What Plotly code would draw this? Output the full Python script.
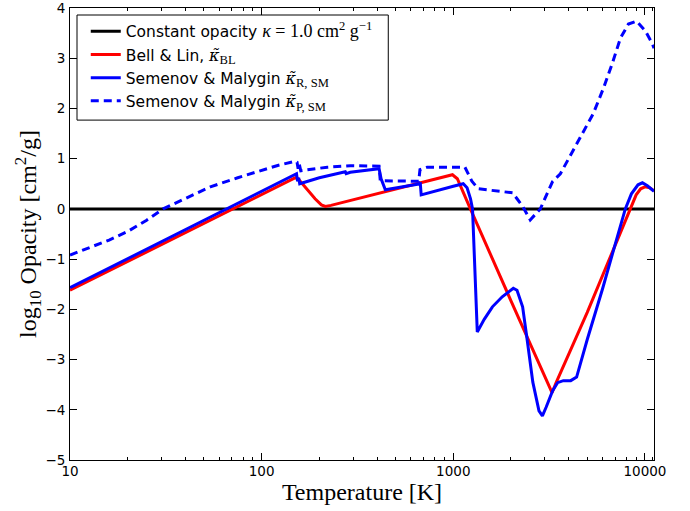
import numpy as np
import plotly.graph_objects as go

# values (temperature in K, log10 opacity)
const_T = [10, 11150]
const_k = [0.0, 0.0]

bl_T = [10, 150, 155, 170, 190, 205, 215, 230, 400, 700, 900, 990, 1050, 1100, 1228,
        2000, 3000, 3275, 3450, 5000, 7000, 8400, 9000, 9500, 10000, 10600, 11150]
bl_k = [-1.62, 0.62, 0.6, 0.42, 0.2, 0.08, 0.05, 0.07, 0.3, 0.53, 0.64, 0.68, 0.6, 0.42, 0.0,
        -1.83, -3.34, -3.66, -3.45, -2.06, -0.72, 0.0, 0.28, 0.4, 0.44, 0.42, 0.36]

smr_T = [10, 100, 150, 152, 154, 156, 158, 165, 200, 273, 276, 290, 350, 410, 420, 442,
         673, 680, 1000, 1127, 1180, 1230, 1260, 1290, 1310, 1334, 1450, 1600, 1800, 2000,
         2056, 2150, 2300, 2432, 2600, 2800, 2917, 3050, 3300, 3500, 3750, 4100, 4400,
         5000, 6000, 7000, 7900, 8500, 9200, 9700, 10300, 11150]
smr_k = [-1.57, 0.34, 0.68, 0.70, 0.55, 0.62, 0.5, 0.52, 0.62, 0.74, 0.70, 0.73, 0.77, 0.80, 0.6, 0.38,
         0.5, 0.28, 0.45, 0.5, 0.42, 0.2, 0.0, -1.0, -2.0, -2.45, -2.2, -1.95, -1.75, -1.6,
         -1.58, -1.62, -1.95, -2.62, -3.45, -4.02, -4.12, -3.95, -3.62, -3.46, -3.42, -3.42, -3.35,
         -2.6, -1.6, -0.7, 0.0, 0.3, 0.48, 0.52, 0.46, 0.35]

smp_T = [10, 13, 16, 20, 25, 30.6, 40, 54, 75, 98, 120, 150, 153, 155, 157, 160, 175, 220,
         290, 410, 416, 660, 670, 730, 1150, 1250, 1350, 2040, 2300, 2520, 2845, 3290, 3620,
         4240, 4720, 5380, 6070, 6760, 7450, 8200, 9040, 10070, 10950, 11150]
smp_k = [-0.92, -0.76, -0.62, -0.45, -0.23, 0.0, 0.2, 0.44, 0.62, 0.76, 0.86, 0.95, 0.93, 0.8, 0.9,
         0.76, 0.78, 0.83, 0.86, 0.85, 0.56, 0.55, 0.78, 0.83, 0.83, 0.55, 0.4, 0.32, 0.05,
         -0.22, 0.0, 0.54, 0.7, 1.18, 1.48, 1.9, 2.4, 2.9, 3.4, 3.68, 3.74, 3.54, 3.28, 3.2]

x_major = [10, 100, 1000, 10000]
y_major = [-5, -4, -3, -2, -1, 0, 1, 2, 3, 4]

SERIF = "Liberation Serif"
def m(s):
    return "<span style='font-family:%s;font-size:18px'>%s</span>" % (SERIF, s)
def kt(sub):
    return ("<span style='font-family:DejaVu Serif;font-size:16px'><i>κ̃</i></span>"
            + m("<sub>%s</sub>" % sub))

names = [
    "Constant opacity " + m("<i>κ</i> = 1.0 cm<sup>2</sup> g<sup>−1</sup>"),
    "Bell &amp; Lin, " + kt("BL"),
    "Semenov &amp; Malygin " + kt("R, SM"),
    "Semenov &amp; Malygin " + kt("P, SM"),
]

fig = go.Figure()
fig.add_trace(go.Scatter(x=const_T, y=const_k, mode="lines", name=names[0],
                         line=dict(color="black", width=3)))
fig.add_trace(go.Scatter(x=bl_T, y=bl_k, mode="lines", name=names[1],
                         line=dict(color="#ff0000", width=3)))
fig.add_trace(go.Scatter(x=smr_T, y=smr_k, mode="lines", name=names[2],
                         line=dict(color="#0000ff", width=3)))
fig.add_trace(go.Scatter(x=smp_T, y=smp_k, mode="lines", name=names[3],
                         line=dict(color="#0000ff", width=3, dash="8px,5px")))

minor_x = [d * 10 ** e for e in range(1, 4) for d in range(2, 10)] + [11000]

# legend frame (matplotlib style, with roomy padding)
fig.add_shape(type="rect", xref="paper", yref="paper", x0=0.012, x1=0.545, y0=0.752, y1=0.9845,
              line=dict(color="black", width=1), fillcolor="white", layer="above")

fig.update_layout(
    width=690, height=511,
    margin=dict(l=70, r=36, t=8, b=51),
    paper_bgcolor="white", plot_bgcolor="white",
    font=dict(family="DejaVu Sans", size=13.5, color="black"),
    showlegend=True,
    legend=dict(x=0.027, y=0.985, xanchor="left", yanchor="top",
                borderwidth=0, bgcolor="rgba(0,0,0,0)",
                font=dict(size=15.5), itemwidth=30, tracegroupgap=0),
    xaxis=dict(type="log", range=[1, np.log10(11150)], automargin=False,
               tickvals=x_major, ticktext=[str(v) for v in x_major],
               ticks="inside", ticklen=7, tickwidth=1, tickcolor="black",
               ticklabelstandoff=-1, ticklabeloverflow="allow",
               showline=True, linecolor="black", linewidth=1, mirror="ticks",
               showgrid=False, zeroline=False,
               minor=dict(tickvals=minor_x, ticks="inside", ticklen=3, tickcolor="black", showgrid=False),
               title=dict(text="Temperature [K]", font=dict(family=SERIF, size=24), standoff=3)),
    yaxis=dict(range=[-5, 4], tickvals=y_major, automargin=False,
               ticktext=[str(v).replace("-", "−") for v in y_major],
               ticks="inside", ticklen=7, tickwidth=1, tickcolor="black",
               ticklabelstandoff=1, ticklabeloverflow="allow",
               showline=True, linecolor="black", linewidth=1, mirror="ticks",
               showgrid=False, zeroline=False,
               title=dict(text="log<sub>10</sub> Opacity [cm<sup>2</sup>/g]",
                          font=dict(family=SERIF, size=24), standoff=0)),
)

# the page body has a default 8px margin; drop it so the figure fills the window
fig.write_html("out.html", config={"displayModeBar": False},
               post_script="document.body.style.margin='0';")
